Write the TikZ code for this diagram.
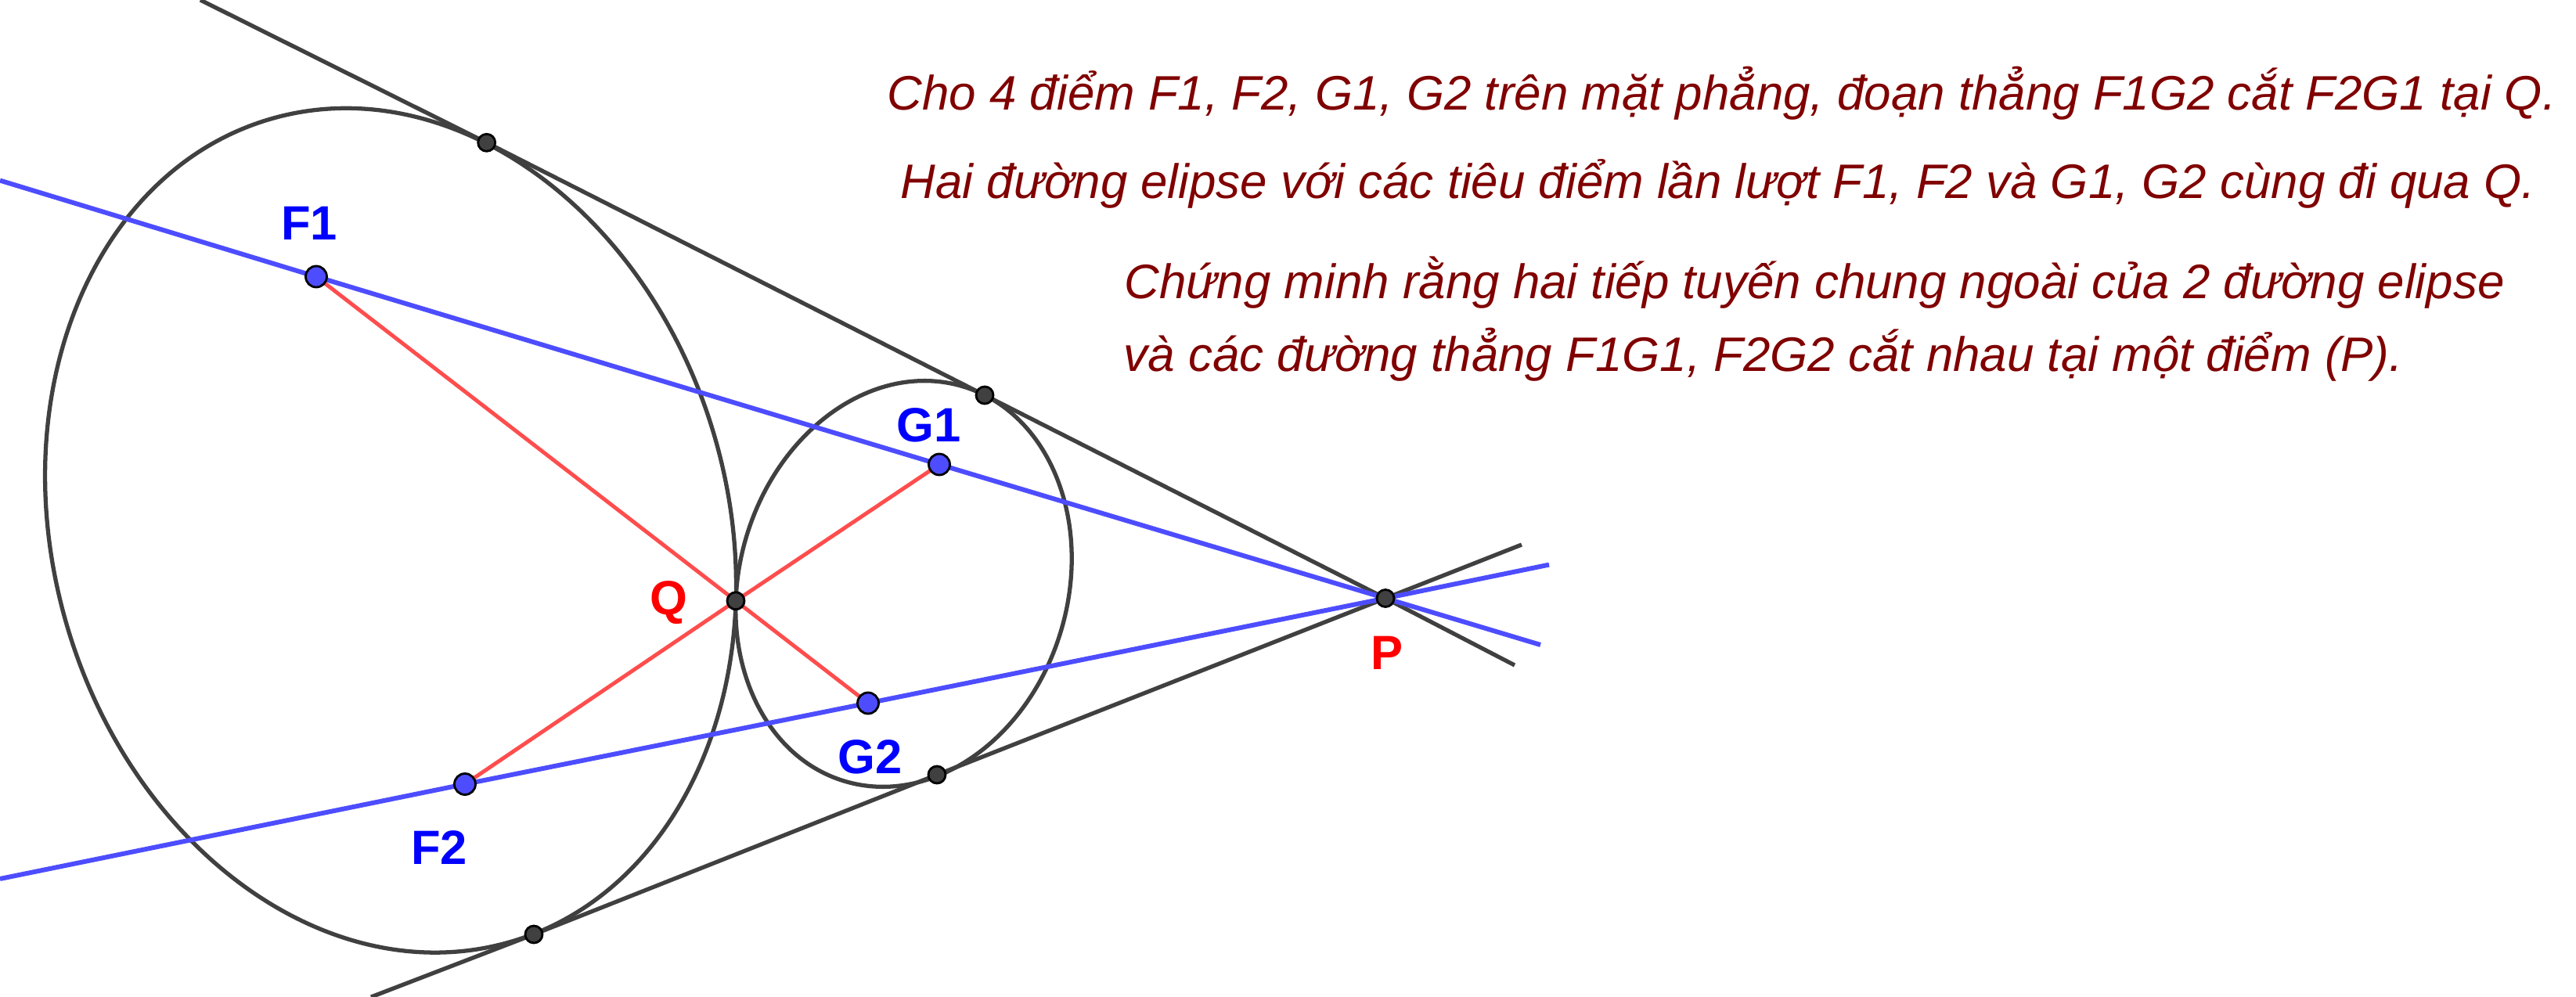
\documentclass[tikz,border=0pt]{standalone}
\usepackage{fontspec}
\setmainfont{Liberation Sans}
\setsansfont{Liberation Sans}
\usetikzlibrary{calc}

\definecolor{linegray}{RGB}{64,64,64}
\definecolor{geoblue}{RGB}{77,77,255}
\definecolor{geored}{RGB}{255,77,77}
\definecolor{textred}{RGB}{128,0,0}

\tikzset{
	curve/.style={draw=linegray, line width=1.5pt},
	tangent/.style={draw=linegray, line width=1.5pt},
	focusline/.style={draw=geoblue, line width=1.7pt},
	seg/.style={draw=geored, line width=1.4pt},
	focusdot/.style={fill=geoblue, draw=black, line width=0.8pt},
	touchdot/.style={fill=linegray, draw=black, line width=0.8pt},
	ptlabel/.style={font=\fontsize{17.5}{20}\selectfont\bfseries, inner sep=0pt, anchor=base},
	statement/.style={font=\fontsize{17.6}{20}\selectfont\itshape, text=textred, inner sep=0pt, anchor=base west}
}

\begin{document}
\begin{tikzpicture}[font=\sffamily]
		
		\useasboundingbox (0,0) rectangle (32.91,-12.74);
		
		% 1. Foci, Q, P and the tangency points
		\coordinate (F1) at (4.04,-3.535);
		\coordinate (F2) at (5.94,-10.02);
		\coordinate (G1) at (12.00,-5.935);
		\coordinate (G2) at (11.09,-8.985);
		\coordinate (Q) at (9.40,-7.678);
		\coordinate (P) at (17.70,-7.645);
		\coordinate (T1) at (6.217,-1.823);
		\coordinate (T2) at (12.58,-5.05);
		\coordinate (T3) at (11.97,-9.90);
		\coordinate (T4) at (6.82,-11.94);
		
		% free ends of the long lines
		\coordinate (upA) at (2.56,0);
		\coordinate (upB) at (19.35,-8.50);
		\coordinate (lowA) at (4.74,-12.74);
		\coordinate (lowB) at (19.44,-6.96);
		\coordinate (fgA) at (0,-2.306);
		\coordinate (fgB) at (19.68,-8.24);
		\coordinate (ggA) at (0,-11.23);
		\coordinate (ggB) at (19.79,-7.216);
		
		% 2. The two ellipses (through Q)
		\draw[curve, rotate around={106.33:(4.99,-6.7775)}] (4.99,-6.7775) ellipse (5.4765 and 4.31);
		\draw[curve, rotate around={73.39:(11.545,-7.46)}] (11.545,-7.46) ellipse (2.633 and 2.098);
		
		% 3. Common outer tangents
		\draw[tangent] (upA) -- (T1) -- (T2) -- (P) -- (upB);
		\draw[tangent] (lowA) -- (T4) -- (T3) -- (P) -- (lowB);
		
		% 4. Lines F1G1 and F2G2
		\draw[focusline] (fgA) -- (F1) -- (G1) -- (P) -- (fgB);
		\draw[focusline] (ggA) -- (F2) -- (G2) -- (P) -- (ggB);
		
		% 5. Segments F1G2 and F2G1 crossing at Q
		\draw[seg] (F1) -- (Q) -- (G2);
		\draw[seg] (F2) -- (Q) -- (G1);
		
		% 6. Points
		\foreach \p in {Q,P,T1,T2,T3,T4}
			\filldraw[touchdot] (\p) circle (0.11);
		\foreach \p in {F1,F2,G1,G2}
			\filldraw[focusdot] (\p) circle (0.135);
		
		% labels
		\node[ptlabel, text=blue] (lF1) at (3.95,-3.07) {F1};
		\node[ptlabel, text=blue] (lF2) at (5.61,-11.04) {F2};
		\node[ptlabel, text=blue] (lG1) at (11.87,-5.65) {G1};
		\node[ptlabel, text=blue] (lG2) at (11.12,-9.88) {G2};
		\node[ptlabel, text=red] (lQ) at (8.54,-7.86) {Q};
		\node[ptlabel, text=red] (lP) at (17.72,-8.56) {P};
		
		% 7. Statement of the problem
		\node[statement] (line1) at (11.33,-1.41) {Cho 4 điểm F1, F2, G1, G2 trên mặt phẳng, đoạn thẳng F1G2 cắt F2G1 tại Q.};
		\node[statement] (line2) at (11.50,-2.54) {Hai đường elipse với các tiêu điểm lần lượt F1, F2 và G1, G2 cùng đi qua Q.};
		\node[statement] (line3) at (14.36,-3.82) {Chứng minh rằng hai tiếp tuyến chung ngoài của 2 đường elipse};
		\node[statement] (line4) at (14.35,-4.75) {và các đường thẳng F1G1, F2G2 cắt nhau tại một điểm (P).};
		
	\end{tikzpicture}
\end{document}
